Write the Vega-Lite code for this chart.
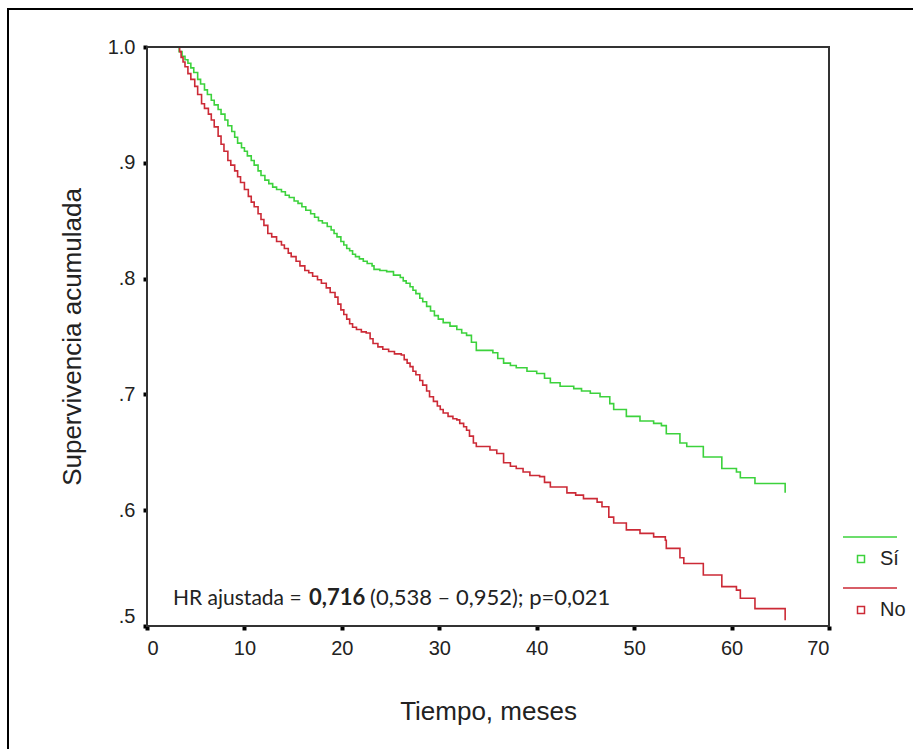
{
  "$schema": "https://vega.github.io/schema/vega-lite/v6.json",
  "width": 909,
  "height": 744,
  "autosize": {"type": "none"},
  "padding": {"left": 8, "top": 9, "right": -4, "bottom": -4},
  "background": "white",
  "config": {
    "view": {"stroke": "#000000", "strokeWidth": 2},
    "font": "Liberation Sans"
  },
  "datasets": {
    "km": [
      {"t": 0, "s": 1.0, "g": "Sí"},
      {"t": 3.3, "s": 0.996, "g": "Sí"},
      {"t": 3.6, "s": 0.992, "g": "Sí"},
      {"t": 3.9, "s": 0.989, "g": "Sí"},
      {"t": 4.2, "s": 0.986, "g": "Sí"},
      {"t": 4.5, "s": 0.982, "g": "Sí"},
      {"t": 4.8, "s": 0.978, "g": "Sí"},
      {"t": 5.2, "s": 0.972, "g": "Sí"},
      {"t": 5.5, "s": 0.968, "g": "Sí"},
      {"t": 5.9, "s": 0.963, "g": "Sí"},
      {"t": 6.2, "s": 0.959, "g": "Sí"},
      {"t": 6.6, "s": 0.954, "g": "Sí"},
      {"t": 6.9, "s": 0.950, "g": "Sí"},
      {"t": 7.3, "s": 0.946, "g": "Sí"},
      {"t": 7.6, "s": 0.942, "g": "Sí"},
      {"t": 8.0, "s": 0.937, "g": "Sí"},
      {"t": 8.3, "s": 0.932, "g": "Sí"},
      {"t": 8.7, "s": 0.927, "g": "Sí"},
      {"t": 9.0, "s": 0.922, "g": "Sí"},
      {"t": 9.3, "s": 0.917, "g": "Sí"},
      {"t": 9.7, "s": 0.913, "g": "Sí"},
      {"t": 10.0, "s": 0.910, "g": "Sí"},
      {"t": 10.3, "s": 0.906, "g": "Sí"},
      {"t": 10.7, "s": 0.902, "g": "Sí"},
      {"t": 11.0, "s": 0.898, "g": "Sí"},
      {"t": 11.4, "s": 0.893, "g": "Sí"},
      {"t": 11.7, "s": 0.889, "g": "Sí"},
      {"t": 12.1, "s": 0.885, "g": "Sí"},
      {"t": 12.5, "s": 0.882, "g": "Sí"},
      {"t": 12.9, "s": 0.879, "g": "Sí"},
      {"t": 13.3, "s": 0.877, "g": "Sí"},
      {"t": 13.8, "s": 0.875, "g": "Sí"},
      {"t": 14.2, "s": 0.872, "g": "Sí"},
      {"t": 14.6, "s": 0.870, "g": "Sí"},
      {"t": 15.1, "s": 0.867, "g": "Sí"},
      {"t": 15.5, "s": 0.865, "g": "Sí"},
      {"t": 15.9, "s": 0.862, "g": "Sí"},
      {"t": 16.3, "s": 0.859, "g": "Sí"},
      {"t": 16.8, "s": 0.856, "g": "Sí"},
      {"t": 17.2, "s": 0.853, "g": "Sí"},
      {"t": 17.6, "s": 0.850, "g": "Sí"},
      {"t": 18.0, "s": 0.848, "g": "Sí"},
      {"t": 18.5, "s": 0.845, "g": "Sí"},
      {"t": 18.9, "s": 0.842, "g": "Sí"},
      {"t": 19.2, "s": 0.839, "g": "Sí"},
      {"t": 19.5, "s": 0.836, "g": "Sí"},
      {"t": 19.9, "s": 0.832, "g": "Sí"},
      {"t": 20.2, "s": 0.829, "g": "Sí"},
      {"t": 20.5, "s": 0.826, "g": "Sí"},
      {"t": 20.8, "s": 0.824, "g": "Sí"},
      {"t": 21.1, "s": 0.821, "g": "Sí"},
      {"t": 21.4, "s": 0.819, "g": "Sí"},
      {"t": 21.8, "s": 0.817, "g": "Sí"},
      {"t": 22.2, "s": 0.815, "g": "Sí"},
      {"t": 22.6, "s": 0.813, "g": "Sí"},
      {"t": 23.1, "s": 0.811, "g": "Sí"},
      {"t": 23.3, "s": 0.808, "g": "Sí"},
      {"t": 23.9, "s": 0.807, "g": "Sí"},
      {"t": 24.6, "s": 0.806, "g": "Sí"},
      {"t": 25.3, "s": 0.803, "g": "Sí"},
      {"t": 26.0, "s": 0.801, "g": "Sí"},
      {"t": 26.3, "s": 0.798, "g": "Sí"},
      {"t": 26.6, "s": 0.796, "g": "Sí"},
      {"t": 27.0, "s": 0.793, "g": "Sí"},
      {"t": 27.3, "s": 0.790, "g": "Sí"},
      {"t": 27.6, "s": 0.787, "g": "Sí"},
      {"t": 28.0, "s": 0.783, "g": "Sí"},
      {"t": 28.3, "s": 0.780, "g": "Sí"},
      {"t": 28.7, "s": 0.776, "g": "Sí"},
      {"t": 29.1, "s": 0.772, "g": "Sí"},
      {"t": 29.5, "s": 0.768, "g": "Sí"},
      {"t": 29.9, "s": 0.765, "g": "Sí"},
      {"t": 30.4, "s": 0.762, "g": "Sí"},
      {"t": 31.1, "s": 0.759, "g": "Sí"},
      {"t": 31.8, "s": 0.756, "g": "Sí"},
      {"t": 32.3, "s": 0.753, "g": "Sí"},
      {"t": 32.8, "s": 0.751, "g": "Sí"},
      {"t": 33.3, "s": 0.745, "g": "Sí"},
      {"t": 33.8, "s": 0.738, "g": "Sí"},
      {"t": 35.5, "s": 0.736, "g": "Sí"},
      {"t": 36.0, "s": 0.731, "g": "Sí"},
      {"t": 36.6, "s": 0.727, "g": "Sí"},
      {"t": 37.3, "s": 0.725, "g": "Sí"},
      {"t": 37.9, "s": 0.723, "g": "Sí"},
      {"t": 39.0, "s": 0.720, "g": "Sí"},
      {"t": 40.0, "s": 0.718, "g": "Sí"},
      {"t": 40.8, "s": 0.714, "g": "Sí"},
      {"t": 41.4, "s": 0.710, "g": "Sí"},
      {"t": 42.4, "s": 0.707, "g": "Sí"},
      {"t": 43.8, "s": 0.705, "g": "Sí"},
      {"t": 44.6, "s": 0.703, "g": "Sí"},
      {"t": 45.5, "s": 0.701, "g": "Sí"},
      {"t": 46.5, "s": 0.698, "g": "Sí"},
      {"t": 47.5, "s": 0.692, "g": "Sí"},
      {"t": 47.9, "s": 0.687, "g": "Sí"},
      {"t": 49.2, "s": 0.681, "g": "Sí"},
      {"t": 50.6, "s": 0.677, "g": "Sí"},
      {"t": 52.0, "s": 0.675, "g": "Sí"},
      {"t": 52.8, "s": 0.673, "g": "Sí"},
      {"t": 53.3, "s": 0.666, "g": "Sí"},
      {"t": 54.7, "s": 0.658, "g": "Sí"},
      {"t": 55.4, "s": 0.655, "g": "Sí"},
      {"t": 57.1, "s": 0.646, "g": "Sí"},
      {"t": 59.0, "s": 0.636, "g": "Sí"},
      {"t": 60.5, "s": 0.633, "g": "Sí"},
      {"t": 60.9, "s": 0.628, "g": "Sí"},
      {"t": 62.4, "s": 0.623, "g": "Sí"},
      {"t": 65.5, "s": 0.615, "g": "Sí"},
      {"t": 0, "s": 1.0, "g": "No"},
      {"t": 3.35, "s": 0.996, "g": "No"},
      {"t": 3.5, "s": 0.991, "g": "No"},
      {"t": 3.7, "s": 0.987, "g": "No"},
      {"t": 3.9, "s": 0.983, "g": "No"},
      {"t": 4.2, "s": 0.977, "g": "No"},
      {"t": 4.5, "s": 0.972, "g": "No"},
      {"t": 4.9, "s": 0.966, "g": "No"},
      {"t": 5.2, "s": 0.959, "g": "No"},
      {"t": 5.6, "s": 0.951, "g": "No"},
      {"t": 5.9, "s": 0.947, "g": "No"},
      {"t": 6.3, "s": 0.942, "g": "No"},
      {"t": 6.6, "s": 0.937, "g": "No"},
      {"t": 6.9, "s": 0.931, "g": "No"},
      {"t": 7.3, "s": 0.923, "g": "No"},
      {"t": 7.6, "s": 0.916, "g": "No"},
      {"t": 7.9, "s": 0.910, "g": "No"},
      {"t": 8.3, "s": 0.902, "g": "No"},
      {"t": 8.6, "s": 0.898, "g": "No"},
      {"t": 9.0, "s": 0.893, "g": "No"},
      {"t": 9.3, "s": 0.888, "g": "No"},
      {"t": 9.6, "s": 0.883, "g": "No"},
      {"t": 10.0, "s": 0.877, "g": "No"},
      {"t": 10.4, "s": 0.871, "g": "No"},
      {"t": 10.7, "s": 0.866, "g": "No"},
      {"t": 11.0, "s": 0.862, "g": "No"},
      {"t": 11.4, "s": 0.856, "g": "No"},
      {"t": 11.7, "s": 0.851, "g": "No"},
      {"t": 12.0, "s": 0.846, "g": "No"},
      {"t": 12.4, "s": 0.839, "g": "No"},
      {"t": 12.8, "s": 0.836, "g": "No"},
      {"t": 13.3, "s": 0.832, "g": "No"},
      {"t": 13.8, "s": 0.829, "g": "No"},
      {"t": 14.1, "s": 0.826, "g": "No"},
      {"t": 14.5, "s": 0.822, "g": "No"},
      {"t": 14.8, "s": 0.819, "g": "No"},
      {"t": 15.3, "s": 0.815, "g": "No"},
      {"t": 15.7, "s": 0.811, "g": "No"},
      {"t": 16.2, "s": 0.807, "g": "No"},
      {"t": 16.6, "s": 0.805, "g": "No"},
      {"t": 17.0, "s": 0.802, "g": "No"},
      {"t": 17.5, "s": 0.799, "g": "No"},
      {"t": 17.9, "s": 0.796, "g": "No"},
      {"t": 18.4, "s": 0.792, "g": "No"},
      {"t": 18.8, "s": 0.788, "g": "No"},
      {"t": 19.3, "s": 0.784, "g": "No"},
      {"t": 19.6, "s": 0.778, "g": "No"},
      {"t": 19.9, "s": 0.773, "g": "No"},
      {"t": 20.2, "s": 0.769, "g": "No"},
      {"t": 20.5, "s": 0.765, "g": "No"},
      {"t": 20.8, "s": 0.761, "g": "No"},
      {"t": 21.1, "s": 0.758, "g": "No"},
      {"t": 21.5, "s": 0.756, "g": "No"},
      {"t": 22.0, "s": 0.754, "g": "No"},
      {"t": 22.5, "s": 0.753, "g": "No"},
      {"t": 22.9, "s": 0.748, "g": "No"},
      {"t": 23.2, "s": 0.744, "g": "No"},
      {"t": 23.7, "s": 0.741, "g": "No"},
      {"t": 24.2, "s": 0.739, "g": "No"},
      {"t": 24.8, "s": 0.737, "g": "No"},
      {"t": 25.4, "s": 0.735, "g": "No"},
      {"t": 26.1, "s": 0.734, "g": "No"},
      {"t": 26.4, "s": 0.730, "g": "No"},
      {"t": 26.7, "s": 0.727, "g": "No"},
      {"t": 27.0, "s": 0.724, "g": "No"},
      {"t": 27.3, "s": 0.720, "g": "No"},
      {"t": 27.6, "s": 0.717, "g": "No"},
      {"t": 28.0, "s": 0.712, "g": "No"},
      {"t": 28.3, "s": 0.708, "g": "No"},
      {"t": 28.7, "s": 0.703, "g": "No"},
      {"t": 29.0, "s": 0.698, "g": "No"},
      {"t": 29.4, "s": 0.694, "g": "No"},
      {"t": 29.8, "s": 0.690, "g": "No"},
      {"t": 30.1, "s": 0.687, "g": "No"},
      {"t": 30.4, "s": 0.684, "g": "No"},
      {"t": 30.9, "s": 0.681, "g": "No"},
      {"t": 31.4, "s": 0.679, "g": "No"},
      {"t": 31.8, "s": 0.678, "g": "No"},
      {"t": 32.1, "s": 0.675, "g": "No"},
      {"t": 32.5, "s": 0.672, "g": "No"},
      {"t": 32.8, "s": 0.669, "g": "No"},
      {"t": 33.1, "s": 0.664, "g": "No"},
      {"t": 33.5, "s": 0.658, "g": "No"},
      {"t": 33.8, "s": 0.655, "g": "No"},
      {"t": 35.2, "s": 0.652, "g": "No"},
      {"t": 35.9, "s": 0.649, "g": "No"},
      {"t": 36.6, "s": 0.641, "g": "No"},
      {"t": 37.3, "s": 0.638, "g": "No"},
      {"t": 37.9, "s": 0.636, "g": "No"},
      {"t": 38.6, "s": 0.633, "g": "No"},
      {"t": 39.3, "s": 0.630, "g": "No"},
      {"t": 40.3, "s": 0.629, "g": "No"},
      {"t": 40.8, "s": 0.624, "g": "No"},
      {"t": 41.4, "s": 0.620, "g": "No"},
      {"t": 43.1, "s": 0.615, "g": "No"},
      {"t": 44.0, "s": 0.613, "g": "No"},
      {"t": 44.8, "s": 0.610, "g": "No"},
      {"t": 46.2, "s": 0.607, "g": "No"},
      {"t": 46.7, "s": 0.603, "g": "No"},
      {"t": 47.4, "s": 0.594, "g": "No"},
      {"t": 47.9, "s": 0.589, "g": "No"},
      {"t": 49.2, "s": 0.583, "g": "No"},
      {"t": 50.6, "s": 0.580, "g": "No"},
      {"t": 52.0, "s": 0.577, "g": "No"},
      {"t": 53.2, "s": 0.574, "g": "No"},
      {"t": 53.3, "s": 0.567, "g": "No"},
      {"t": 54.7, "s": 0.559, "g": "No"},
      {"t": 55.1, "s": 0.554, "g": "No"},
      {"t": 57.1, "s": 0.544, "g": "No"},
      {"t": 59.0, "s": 0.534, "g": "No"},
      {"t": 60.5, "s": 0.531, "g": "No"},
      {"t": 60.9, "s": 0.524, "g": "No"},
      {"t": 62.4, "s": 0.515, "g": "No"},
      {"t": 65.5, "s": 0.505, "g": "No"}
    ]
  },
  "layer": [
    {
      "data": {"name": "km"},
      "mark": {"type": "line", "interpolate": "step-after", "strokeWidth": 1.6},
      "encoding": {
        "x": {
          "field": "t",
          "type": "quantitative",
          "scale": {"domain": [0, 70], "range": [139, 821], "nice": false, "zero": false},
          "axis": {
            "orient": "bottom",
            "offset": -127,
            "values": [0, 10, 20, 30, 40, 50, 60, 70],
            "domain": false,
            "grid": false,
            "tickSize": 4,
            "tickWidth": 4,
            "tickColor": "#000000",
            "labelFont": "Liberation Sans",
            "labelFontSize": 20,
            "labelColor": "#222222",
            "labelPadding": 8,
            "title": "Tiempo, meses",
            "titleFont": "Liberation Sans",
            "titleFontSize": 26,
            "titleFontWeight": "normal",
            "titleColor": "#222222",
            "titlePadding": 40
          }
        },
        "y": {
          "field": "s",
          "type": "quantitative",
          "scale": {"domain": [0.5, 1.0], "range": [617, 38], "nice": false, "zero": false},
          "axis": {
            "orient": "left",
            "offset": -139,
            "values": [0.5, 0.6, 0.7, 0.8, 0.9, 1.0],
            "labelExpr": "datum.value >= 0.999 ? '1.0' : '.' + round(datum.value * 10)",
            "labelOffset": {"condition": {"test": "datum.value < 0.55", "value": -10}, "value": 0},
            "domain": false,
            "grid": false,
            "tickSize": 4,
            "tickWidth": 4,
            "tickColor": "#000000",
            "labelFont": "Liberation Sans",
            "labelFontSize": 20,
            "labelColor": "#222222",
            "labelPadding": 8,
            "title": "Supervivencia acumulada",
            "titleFont": "Liberation Sans",
            "titleFontSize": 26,
            "titleFontWeight": "normal",
            "titleColor": "#222222",
            "titlePadding": 22
          }
        },
        "stroke": {
          "field": "g",
          "type": "nominal",
          "scale": {"domain": ["Sí", "No"], "range": ["#3cd23c", "#cc2a36"]},
          "legend": {
            "orient": "none",
            "legendX": 843,
            "legendY": 540,
            "title": null,
            "padding": 0,
            "symbolType": "M-3.6,-4.4L7.2,-4.4M-0.7,-0.7L0.7,-0.7L0.7,0.7L-0.7,0.7Z",
            "symbolSize": 100,
            "symbolStrokeWidth": 1.5,
            "symbolFillColor": "transparent",
            "labelFont": "Liberation Sans",
            "labelFontSize": 20,
            "labelColor": "#222222",
            "labelOffset": 9,
            "rowPadding": 16
          }
        }
      }
    },
    {
      "data": {"values": [{}]},
      "mark": {"type": "rect", "fill": "transparent", "stroke": "#333333", "strokeWidth": 2},
      "encoding": {
        "x": {"datum": 0, "type": "quantitative"},
        "x2": {"datum": 70},
        "y": {"datum": 0.5, "type": "quantitative"},
        "y2": {"datum": 1.0}
      }
    },
    {
      "data": {"values": [{}]},
      "mark": {"type": "text", "text": "HR ajustada =", "font": "Lato", "fontSize": 21, "align": "left", "baseline": "alphabetic", "color": "#222222"},
      "encoding": {
        "x": {"datum": 2.67, "type": "quantitative"},
        "y": {"datum": 0.518, "type": "quantitative"}
      }
    },
    {
      "data": {"values": [{}]},
      "mark": {"type": "text", "text": "0,716", "font": "Lato", "fontSize": 22, "fontWeight": "bold", "align": "left", "baseline": "alphabetic", "color": "#222222"},
      "encoding": {
        "x": {"datum": 16.63, "type": "quantitative"},
        "y": {"datum": 0.518, "type": "quantitative"}
      }
    },
    {
      "data": {"values": [{}]},
      "mark": {"type": "text", "text": "(0,538 – 0,952); p=0,021", "font": "Lato", "fontSize": 22, "align": "left", "baseline": "alphabetic", "color": "#222222"},
      "encoding": {
        "x": {"datum": 22.89, "type": "quantitative"},
        "y": {"datum": 0.518, "type": "quantitative"}
      }
    }
  ]
}
